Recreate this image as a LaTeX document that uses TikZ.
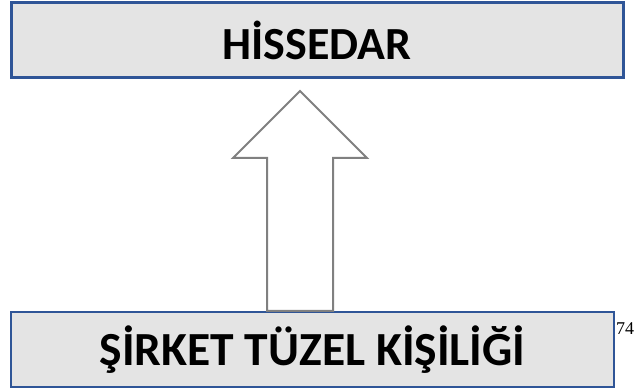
\documentclass[tikz,border=0pt]{standalone}
\usepackage{fontspec}
\setmainfont{Carlito}
\newfontfamily\pagenofont{Liberation Serif}
\usetikzlibrary{positioning}

\definecolor{boxfill}{RGB}{228,228,228}
\definecolor{boxline}{RGB}{47,85,151}
\definecolor{arrowline}{RGB}{128,128,128}

\tikzset{
  titlebox/.style={draw=boxline, fill=boxfill, inner sep=0pt, font=\bfseries},
  blockarrow/.style={draw=arrowline, fill=white, line width=2pt, line join=miter},
}

\begin{document}
\begin{tikzpicture}[x=1pt,y=1pt]
   \useasboundingbox (0,0) rectangle (635,391);

   \node[titlebox, line width=3pt, minimum width=612pt, minimum height=75pt,
         font=\bfseries\fontsize{46}{54}\selectfont]
         (H) at (317,350.5) {HİSSEDAR} ; %
   \node[titlebox, line width=1.6pt, minimum width=603pt, minimum height=75pt,
         font=\bfseries\fontsize{47.5}{56}\selectfont]
         (S) at (312.5,41.5) {ŞİRKET TÜZEL KİŞİLİĞİ} ; %
   \node[anchor=center, inner sep=0pt, font=\pagenofont\fontsize{18}{21}\selectfont]
         (n) at (625,62.5) {74} ; %

   % block arrow from S up to H
   \draw[blockarrow] (267,80) -- (267,233) -- (233,233) -- (300,300)
        -- (367,233) -- (333,233) -- (333,80) -- cycle ;

\end{tikzpicture}
\end{document}
